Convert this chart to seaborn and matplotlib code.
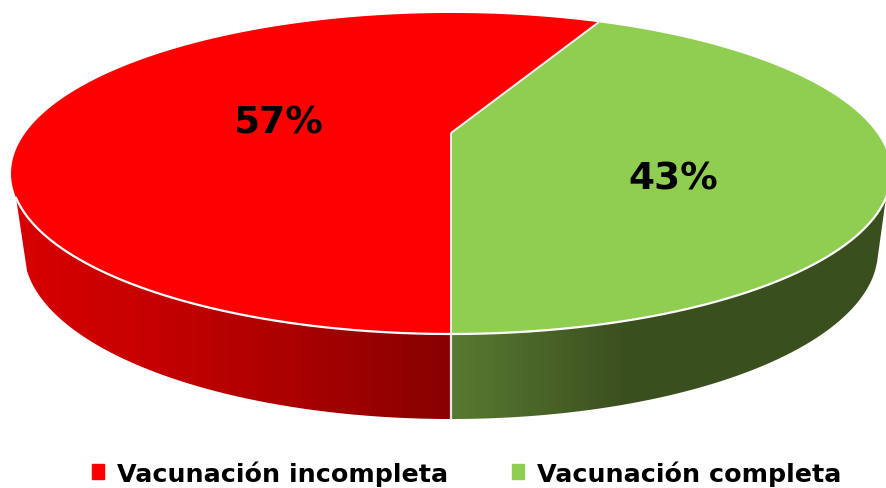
import numpy as np
import matplotlib
matplotlib.use("Agg")
import matplotlib.pyplot as plt
from matplotlib.patches import Patch, Polygon
import seaborn as sns

# Datos
categorias = ["Vacunación incompleta", "Vacunación completa"]
porcentajes = [57, 43]
colores = ["#ff0000", "#90ce52"]
lado_rojo = ["#d80000", "#c40000", "#a80000", "#880000"]
lado_verde = ["#587a30", "#4a6528", "#3a4f1e", "#3a4f1e", "#3a4f1e", "#3a4f1e"]

sns.set_theme(style="white")
plt.rcParams["font.family"] = ["DejaVu Sans"]

W, H = 887, 489
fig = plt.figure(figsize=(W / 100, H / 100), dpi=100)
ax = fig.add_axes([0, 0, 1, 1])
ax.axis("off")

# Geometria del disco en perspectiva: elipse superior e inferior
cx, cy, rx, ry = 451, 174.5, 440, 160.5
cy2, rx2, ry2 = 252, 427, 168
k = 0.2523
Rx = rx * np.sqrt(1 - k ** 2)
Ry = 150.3
cy0 = 134


def proyectar(theta):
    # theta medido desde abajo, sentido antihorario
    u, v = np.sin(theta), -np.cos(theta)
    w = 1 + k * v
    return cx + Rx * u / w, cy0 - Ry * v / w


def borde_inferior(x, c, a, b):
    return c + b * np.sqrt(np.clip(1 - ((x - cx) / a) ** 2, 0, None))


# Cara lateral: degradado recortado con la silueta
xs = np.arange(14, W + 1)
n_izq = int((xs < cx).sum())
pal = sns.blend_palette(lado_rojo, n_izq) + sns.blend_palette(lado_verde, len(xs) - n_izq)
degradado = np.array([list(c)[:3] for c in pal])[np.newaxis, :, :]
img = ax.imshow(degradado, extent=(14, W + 1, H, 0), aspect="auto", interpolation="nearest", zorder=1)

x_arriba = np.linspace(16, 886, 500)
x_abajo = np.linspace(877, 27, 500)
silueta = np.r_[np.c_[x_arriba, borde_inferior(x_arriba, cy, rx, ry)],
                np.c_[x_abajo, borde_inferior(x_abajo, cy2, rx2, ry2)]]
forma = Polygon(silueta, closed=True, fc="none", ec="none", transform=ax.transData)
ax.add_patch(forma)
img.set_clip_path(forma)
ax.set_xlim(0, W)
ax.set_ylim(H, 0)

# Cara superior: una cuna por categoria
fracs = np.array(porcentajes) / sum(porcentajes)
inicio = 0.0
for frac, col in zip(fracs[::-1], colores[::-1]):
    t = np.linspace(inicio, inicio + frac * 2 * np.pi, 400)
    px, py = proyectar(t)
    ax.add_patch(Polygon(np.r_[[[cx, cy0]], np.c_[px, py]], closed=True, fc=col, ec="none", zorder=2))
    inicio += frac * 2 * np.pi

# Lineas blancas de separacion
for t0 in [0.0, fracs[1] * 2 * np.pi]:
    px, py = proyectar(np.array(t0))
    ax.plot([cx, px], [cy0, py], color="#f2f2f2", lw=1.4, solid_capstyle="butt", zorder=3)
x_frente = np.linspace(16, W, 600)
ax.plot(x_frente, borde_inferior(x_frente, cy, rx, ry), color="white", lw=1.6, zorder=3)
ax.plot([cx, cx], [cy + ry, cy2 + ry2], color="#e8e8e8", lw=1.6, zorder=3)

# Etiquetas de porcentaje
pos_etiquetas = [(278, 124), (673, 180)]
for (x, y), p in zip(pos_etiquetas, porcentajes):
    ax.text(x, y, f"{p}%", ha="center", va="center", fontsize=27, fontweight="bold", color="black", zorder=4)

handles = [Patch(color=c, label=l) for c, l in zip(colores, categorias)]
ax.legend(handles=handles, ncol=2, loc="center", bbox_to_anchor=(466.5 / W, 1 - 474 / H), frameon=False,
          prop={"size": 18.3, "weight": "bold"}, handlelength=0.5, handleheight=0.5,
          handletextpad=0.5, columnspacing=2.5, labelcolor="black",
          borderpad=0, borderaxespad=0)

fig.savefig("out.png", dpi=100)
plt.close(fig)
